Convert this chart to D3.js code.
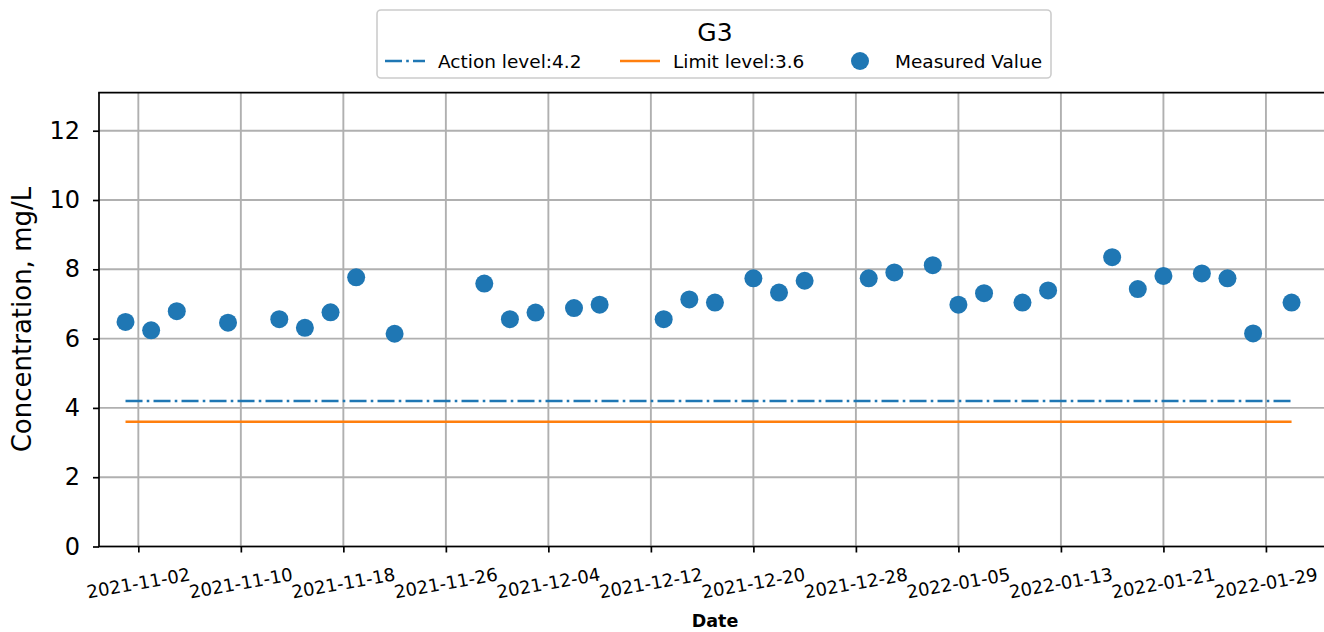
<!DOCTYPE html>
<html>
<head>
<meta charset="utf-8">
<script src="https://cdn.jsdelivr.net/npm/d3@7"></script>
<style>
  html, body { margin: 0; padding: 0; background: #fff; }
  svg { display: block; font-family: "DejaVu Sans", sans-serif; }
</style>
</head>
<body>
<svg id="chart" width="1324" height="632"></svg>
<script>
// Sampling dates and measured concentrations for station G3 (mg/L)
const dates = [
  "2021-11-01", "2021-11-03", "2021-11-05", "2021-11-09", "2021-11-13", "2021-11-15",
  "2021-11-17", "2021-11-19", "2021-11-22", "2021-11-29", "2021-12-01", "2021-12-03",
  "2021-12-06", "2021-12-08", "2021-12-13", "2021-12-15", "2021-12-17", "2021-12-20",
  "2021-12-22", "2021-12-24", "2021-12-29", "2021-12-31", "2022-01-03", "2022-01-05",
  "2022-01-07", "2022-01-10", "2022-01-12", "2022-01-17", "2022-01-19", "2022-01-21",
  "2022-01-24", "2022-01-26", "2022-01-28", "2022-01-31"
];
const measured = [
  6.48, 6.24, 6.79, 6.46, 6.56, 6.31,
  6.76, 7.77, 6.14, 7.59, 6.56, 6.75,
  6.88, 6.98, 6.56, 7.13, 7.04, 7.74,
  7.33, 7.67, 7.74, 7.91, 8.12, 6.98,
  7.31, 7.04, 7.39, 8.35, 7.43, 7.81,
  7.88, 7.74, 6.15, 7.04
];
const actionLevel = 4.2;
const limitLevel = 3.6;

const xTickLabels = [
  "2021-11-02", "2021-11-10", "2021-11-18", "2021-11-26", "2021-12-04", "2021-12-12",
  "2021-12-20", "2021-12-28", "2022-01-05", "2022-01-13", "2022-01-21", "2022-01-29"
];
const yTicks = [0, 2, 4, 6, 8, 10, 12];

const parse = d3.utcParse("%Y-%m-%d");
const parseTime = d3.utcParse("%Y-%m-%dT%H:%M");
const points = dates.map((d, i) => ({ date: parse(d), value: measured[i] }));

const blue = "#1f77b4", orange = "#ff7f0e", gridColor = "#b0b0b0";

const svg = d3.select("#chart");
const plotLeft = 99, plotRight = 1330, plotTop = 92.6, plotBottom = 546.5;

const x = d3.scaleUtc()
  .domain([parseTime("2021-10-29T22:20"), parseTime("2022-02-03T00:00")])
  .range([plotLeft, plotRight]);
const y = d3.scaleLinear().domain([0, 13.1]).range([plotBottom, plotTop]);

// Grid
const grid = svg.append("g");
grid.selectAll(".gx").data(xTickLabels).join("line")
  .attr("x1", d => x(parse(d))).attr("x2", d => x(parse(d)))
  .attr("y1", plotTop).attr("y2", plotBottom)
  .attr("stroke", gridColor).attr("stroke-width", 1.9);
grid.selectAll(".gy").data(yTicks).join("line")
  .attr("x1", plotLeft).attr("x2", plotRight)
  .attr("y1", d => y(d)).attr("y2", d => y(d))
  .attr("stroke", gridColor).attr("stroke-width", 1.9);

// Reference levels spanning the sampling period
const first = points[0].date, last = points[points.length - 1].date;
svg.append("line")
  .attr("x1", x(first)).attr("x2", x(last))
  .attr("y1", y(actionLevel)).attr("y2", y(actionLevel))
  .attr("stroke", blue).attr("stroke-width", 2.6)
  .attr("stroke-dasharray", "17,4.2,2.6,4.2");
svg.append("line")
  .attr("x1", x(first)).attr("x2", x(last))
  .attr("y1", y(limitLevel)).attr("y2", y(limitLevel))
  .attr("stroke", orange).attr("stroke-width", 2.6);

// Measured values
svg.append("g").selectAll("circle").data(points).join("circle")
  .attr("cx", d => x(d.date)).attr("cy", d => y(d.value))
  .attr("r", 9).attr("fill", blue);

// Axes
const xAxis = svg.append("g").attr("transform", `translate(0,${plotBottom})`)
  .call(d3.axisBottom(x).tickValues(xTickLabels.map(parse)).tickSize(6).tickFormat(""));
const yAxis = svg.append("g").attr("transform", `translate(${plotLeft},0)`)
  .call(d3.axisLeft(y).tickValues(yTicks).tickSize(6).tickFormat(""));
[xAxis, yAxis].forEach(a => {
  a.select(".domain").remove();
  a.selectAll(".tick line").attr("stroke", "#000").attr("stroke-width", 1.7);
});

// Spines: left, bottom, top
svg.append("line").attr("x1", plotLeft).attr("x2", plotLeft).attr("y1", plotTop).attr("y2", plotBottom)
  .attr("stroke", "#000").attr("stroke-width", 1.7);
svg.append("line").attr("x1", plotLeft - 0.8).attr("x2", plotRight).attr("y1", plotBottom).attr("y2", plotBottom)
  .attr("stroke", "#000").attr("stroke-width", 1.7);
svg.append("line").attr("x1", plotLeft - 0.8).attr("x2", plotRight).attr("y1", plotTop).attr("y2", plotTop)
  .attr("stroke", "#000").attr("stroke-width", 1.7);

// Tick labels
svg.append("g").selectAll("text").data(xTickLabels).join("text")
  .attr("transform", d => `translate(${x(parse(d))},583) rotate(-10)`)
  .attr("text-anchor", "middle").attr("dominant-baseline", "central")
  .attr("font-size", 18).attr("fill", "#000")
  .text(d => d);
svg.append("g").selectAll("text").data(yTicks).join("text")
  .attr("x", plotLeft - 19).attr("y", d => y(d))
  .attr("text-anchor", "end").attr("dominant-baseline", "central")
  .attr("font-size", 24).attr("fill", "#000")
  .text(d => d);

// Axis titles
svg.append("text")
  .attr("transform", `translate(22,${(plotTop + plotBottom) / 2}) rotate(-90)`)
  .attr("text-anchor", "middle").attr("dominant-baseline", "central")
  .attr("font-size", 26).text("Concentration, mg/L");
svg.append("text")
  .attr("x", 715).attr("y", 627)
  .attr("text-anchor", "middle")
  .attr("font-size", 17.5).attr("font-weight", "bold").text("Date");

// Legend
const lg = svg.append("g");
lg.append("rect").attr("x", 377).attr("y", 10).attr("width", 674).attr("height", 68)
  .attr("rx", 4).attr("fill", "#fff").attr("fill-opacity", 0.8)
  .attr("stroke", "#cccccc").attr("stroke-width", 1.6);
lg.append("text").attr("x", 715).attr("y", 41).attr("text-anchor", "middle")
  .attr("font-size", 25).text("G3");
const ly = 61;
lg.append("line").attr("x1", 385).attr("x2", 425).attr("y1", ly).attr("y2", ly)
  .attr("stroke", blue).attr("stroke-width", 2.6).attr("stroke-dasharray", "17,4.2,2.6,4.2");
lg.append("text").attr("x", 438).attr("y", ly).attr("dominant-baseline", "central")
  .attr("font-size", 18.5).text(`Action level:${actionLevel}`);
lg.append("line").attr("x1", 620).attr("x2", 660).attr("y1", ly).attr("y2", ly)
  .attr("stroke", orange).attr("stroke-width", 2.6);
lg.append("text").attr("x", 673).attr("y", ly).attr("dominant-baseline", "central")
  .attr("font-size", 18.5).text(`Limit level:${limitLevel}`);
lg.append("circle").attr("cx", 860).attr("cy", ly).attr("r", 9).attr("fill", blue);
lg.append("text").attr("x", 895).attr("y", ly).attr("dominant-baseline", "central")
  .attr("font-size", 18.5).text("Measured Value");
</script>
</body>
</html>
